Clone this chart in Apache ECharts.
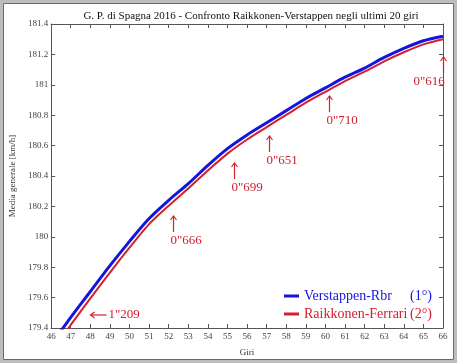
<!DOCTYPE html>
<html><head><meta charset="utf-8">
<script src="https://cdn.jsdelivr.net/npm/echarts@6/dist/echarts.min.js"></script>
<style>html,body{margin:0;padding:0;background:#fff}#c{width:457px;height:363px}</style>
</head><body><div id="c"></div>
<script>
var laps = [46,47,48,49,50,51,52,53,54,55,56,57,58,59,60,61,62,63,64,65,66];
var verstappen = [179.29,179.47,179.64,179.81,179.97,180.12,180.24,180.35,180.47,180.58,180.67,180.75,180.83,180.91,180.98,181.05,181.11,181.18,181.24,181.29,181.32];
var raikkonen = [179.24,179.42,179.595,179.765,179.928,180.083,180.205,180.318,180.436,180.547,180.64,180.722,180.802,180.882,180.954,181.024,181.086,181.154,181.214,181.266,181.30];
var xTicks = {min:46, max:66, interval:1};
var yTicks = {min:179.4, max:181.4, interval:0.2};
var gapLabels = ['1"209','0"666','0"699','0"651','0"710','0"616'];
var gapLaps = [47.97,52.2,55.35,57.1,60.2,66];
var gapVals = [179.486,180.137,180.486,180.663,180.926,181.183];

var RED = '#d0202e', BLUE = '#1414dd';
var serif = '"Liberation Serif","DejaVu Serif",serif';
var chart = echarts.init(document.getElementById('c'));
function pairs(v){ return laps.map(function(l,i){return [l,v[i]];}); }
var axisCommon = {
  axisLine:{lineStyle:{color:'#555',width:1}},
  axisTick:{inside:true,length:4,lineStyle:{color:'#555'}},
  splitLine:{show:false}
};
chart.setOption({
  animation:false,
  backgroundColor:'#fff',
  title:{text:'G. P. di Spagna 2016 - Confronto Raikkonen-Verstappen negli ultimi 20 giri',
    left:246, top:6, textAlign:'center',
    textStyle:{fontFamily:serif,fontSize:11,fontWeight:'normal',color:'#111'}},
  grid:{left:48, top:24, width:395, height:304},
  xAxis:[
    Object.assign({type:'value',min:xTicks.min,max:xTicks.max,interval:xTicks.interval,position:'bottom',
      name:'Giri',nameLocation:'middle',nameGap:20,
      nameTextStyle:{fontFamily:serif,fontSize:9,color:'#333'},
      axisLabel:{fontFamily:serif,fontSize:9,color:'#444',margin:4}},axisCommon),
    Object.assign({type:'value',min:xTicks.min,max:xTicks.max,interval:xTicks.interval,position:'top',
      axisLabel:{show:false}},axisCommon)
  ],
  yAxis:[
    Object.assign({type:'value',min:yTicks.min,max:yTicks.max,interval:yTicks.interval,position:'left',
      name:'Media generale [km/h]',nameLocation:'middle',nameGap:33,
      nameTextStyle:{fontFamily:serif,fontSize:9,color:'#333'},
      axisLabel:{fontFamily:serif,fontSize:9,color:'#444',margin:3}},axisCommon),
    Object.assign({type:'value',min:yTicks.min,max:yTicks.max,interval:yTicks.interval,position:'right',
      axisLabel:{show:false}},axisCommon)
  ],
  legend:{orient:'vertical',left:279,top:284,itemWidth:15,itemHeight:3,itemGap:4,icon:'rect',
    formatter:function(n){
      return n==='Verstappen-Rbr' ? '{b|Verstappen-Rbr}{bp|(1°)}' : '{r|Raikkonen-Ferrari}{rp|(2°)}';
    },
    textStyle:{fontFamily:serif,fontSize:14,padding:[0,0,0,0],
      rich:{
        b:{fontFamily:serif,fontSize:14,color:BLUE,width:106},
        bp:{fontFamily:serif,fontSize:14,color:BLUE},
        r:{fontFamily:serif,fontSize:14,color:RED,width:106},
        rp:{fontFamily:serif,fontSize:14,color:RED}
      }},
    data:['Verstappen-Rbr','Raikkonen-Ferrari']},
  series:[
    {name:'Verstappen-Rbr',type:'line',data:pairs(verstappen),smooth:0.3,showSymbol:false,
      lineStyle:{color:BLUE,width:3},itemStyle:{color:BLUE},z:3},
    {name:'Raikkonen-Ferrari',type:'line',data:pairs(raikkonen),smooth:0.3,showSymbol:false,
      lineStyle:{color:RED,width:2},itemStyle:{color:RED},z:2}
  ]
});

// annotations positioned from data coordinates
var g = [];
gapLabels.forEach(function(t,i){
  var p = chart.convertToPixel({gridIndex:0},[gapLaps[i],gapVals[i]]);
  var x = Math.round(p[0])+0.5, y = Math.round(p[1]);
  if(i===0){
    g.push({type:'line',shape:{x1:x,y1:y,x2:x+16,y2:y},style:{stroke:RED,lineWidth:1.2},silent:true});
    g.push({type:'polyline',shape:{points:[[x+4,y-3],[x,y],[x+4,y+3]]},style:{stroke:RED,lineWidth:1.2,fill:null},silent:true});
    g.push({type:'text',x:x+18,y:y,style:{text:t,fill:RED,font:'13px '+serif,textVerticalAlign:'middle'},silent:true});
  } else {
    g.push({type:'line',shape:{x1:x,y1:y,x2:x,y2:y+16},style:{stroke:RED,lineWidth:1.2},silent:true});
    g.push({type:'polyline',shape:{points:[[x-3,y+4],[x,y],[x+3,y+4]]},style:{stroke:RED,lineWidth:1.2,fill:null},silent:true});
    var tx = (i===5) ? x-30 : x-3;
    g.push({type:'text',x:tx,y:y+18,style:{text:t,fill:RED,font:'13px '+serif,textVerticalAlign:'top'},z:10,silent:true});
  }
});
// frame
g.push({type:'rect',shape:{x:1.5,y:1.5,width:454,height:360},style:{stroke:'#bdbdbd',lineWidth:3,fill:null},silent:true});
g.push({type:'rect',shape:{x:3.5,y:3.5,width:450,height:356},style:{stroke:'#6a6a6a',lineWidth:1,fill:null},silent:true});
chart.setOption({graphic:g});
</script></body></html>
